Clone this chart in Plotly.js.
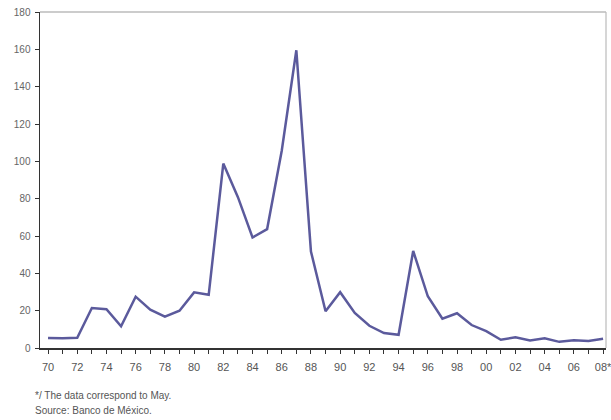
<!DOCTYPE html>
<html>
<head>
<meta charset="utf-8">
<script src="https://cdn.plot.ly/plotly-3.0.1.min.js"></script>
<style>html,body{margin:0;padding:0;background:#fff;}#chart{width:611px;height:420px;}</style>
</head>
<body>
<div id="chart"></div>
<script>
const years = [1970,1971,1972,1973,1974,1975,1976,1977,1978,1979,1980,1981,1982,1983,1984,1985,1986,1987,1988,1989,1990,1991,1992,1993,1994,1995,1996,1997,1998,1999,2000,2001,2002,2003,2004,2005,2006,2007,2008];
const inflation = [5.4,5.2,5.5,21.4,20.8,11.6,27.5,20.5,16.8,20.0,29.8,28.5,98.8,80.8,59.2,63.7,105.7,159.5,51.7,19.7,29.9,18.8,11.9,8.0,7.1,52.0,27.7,15.7,18.6,12.3,9.0,4.4,5.7,4.0,5.2,3.3,4.1,3.8,5.0];
const xTickLabels = ["70","","72","","74","","76","","78","","80","","82","","84","","86","","88","","90","","92","","94","","96","","98","","00","","02","","04","","06","","08*"];
const yTicks = [0,20,40,60,80,100,120,140,160,180];
const footnotes = ["*/ The data correspond to May.", "Source: Banco de México."];

const trace = {
  x: years, y: inflation, type: 'scatter', mode: 'lines',
  line: {color: '#5b5a9c', width: 2.5},
  hoverinfo: 'x+y'
};

const layout = {
  width: 611, height: 420,
  margin: {l: 40, r: 5, t: 12, b: 72},
  paper_bgcolor: '#fff', plot_bgcolor: '#fff',
  showlegend: false,
  font: {family: 'Liberation Sans, Arial, sans-serif', size: 10, color: '#555'},
  xaxis: {
    range: [1969.45, 2008.2],
    tickvals: years, ticktext: xTickLabels,
    ticks: 'outside', ticklen: 4, tickcolor: '#333', tickwidth: 1,
    showline: true, linecolor: '#333', linewidth: 1.5,
    showgrid: false, zeroline: false,
    tickfont: {size: 11, color: '#555'},
    ticklabeloverflow: 'allow',
    ticklabelstandoff: 4,
    fixedrange: true
  },
  yaxis: {
    range: [0, 180],
    tickvals: yTicks,
    ticks: 'outside', ticklen: 4, tickcolor: '#333',
    showline: true, linecolor: '#333', linewidth: 1.5,
    showgrid: false, zeroline: false,
    tickfont: {size: 10, color: '#666'},
    ticklabelstandoff: 2,
    fixedrange: true
  },
  shapes: [
    {type: 'line', xref: 'paper', yref: 'paper', x0: 0, x1: 1, y0: 1, y1: 1, line: {color: '#999', width: 1.2}},
    {type: 'line', xref: 'paper', yref: 'paper', x0: 1, x1: 1, y0: 0, y1: 1, line: {color: '#bbb', width: 1.2}}
  ],
  annotations: [
    {text: footnotes[0], xref: 'paper', yref: 'paper', x: -0.012, y: -0.14, xanchor: 'left', yanchor: 'middle', showarrow: false, font: {size: 10, color: '#555'}},
    {text: footnotes[1], xref: 'paper', yref: 'paper', x: -0.012, y: -0.185, xanchor: 'left', yanchor: 'middle', showarrow: false, font: {size: 10, color: '#555'}}
  ]
};

Plotly.newPlot('chart', [trace], layout, {displayModeBar: false, staticPlot: true});
</script>
</body>
</html>
